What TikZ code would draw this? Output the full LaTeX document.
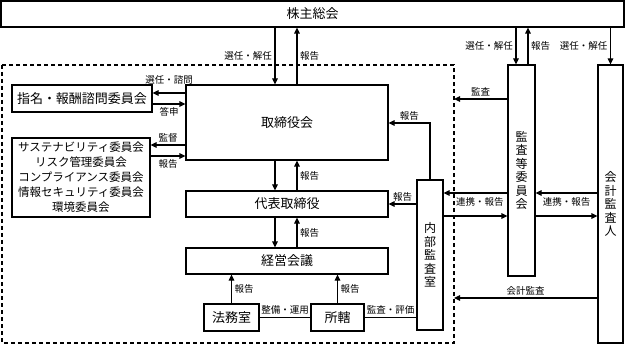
\documentclass[tikz,border=0pt]{standalone}
\usepackage{fontspec}
\usetikzlibrary{arrows.meta}
\newfontfamily\jpfont{Noto Sans CJK JP}

\tikzset{
  box/.style={draw,line width=1.2pt,inner sep=0pt,font=\jpfont\fontsize{13}{15}\selectfont},
  vbox/.style={box,align=center,font=\jpfont\fontsize{12}{13.5}\selectfont},
  lbl/.style={inner sep=2.5pt,font=\jpfont\fontsize{9.5}{11}\selectfont},
}

\begin{document}
\begin{tikzpicture}[>={Triangle[length=6pt,width=5.5pt]},x=1pt,y=-1pt,line width=1.2pt]
 \useasboundingbox (0,0) rectangle (625,345);
 % boxes
 \node[box,minimum width=623pt,minimum height=26pt] (kabunushi) at (312.5,14) {株主総会};
 \node[box,minimum width=202pt,minimum height=75pt] (torishimari) at (287,122.5) {取締役会};
 \node[box,minimum width=202pt,minimum height=26pt] (daihyo) at (287,204) {代表取締役};
 \node[box,minimum width=202pt,minimum height=26pt] (keiei) at (287,261) {経営会議};
 \node[box,minimum width=55pt,minimum height=27pt] (houmu) at (231.5,317.5) {法務室};
 \node[box,minimum width=53pt,minimum height=27pt] (shokatsu) at (337.5,317.5) {所轄};
 \node[box,minimum width=140pt,minimum height=27pt] (shimei) at (82,98.5) {指名・報酬諮問委員会};
 \node[box,align=center,minimum width=138pt,minimum height=79pt,
   font=\jpfont\fontsize{11.5}{15}\selectfont] (iinkai) at (81,177.5)
   {サステナビリティ委員会\\リスク管理委員会\\コンプライアンス委員会\\情報セキュリティ委員会\\環境委員会};
 \node[vbox,minimum width=26pt,minimum height=150pt] (naibu) at (430,255) {内\\部\\監\\査\\室};
 \node[vbox,minimum width=27pt,minimum height=211pt] (kansa) at (521.5,170.5) {監\\査\\等\\委\\員\\会};
 \node[vbox,minimum width=25pt,minimum height=278pt] (kaikei) at (610.5,204) {会\\計\\監\\査\\人};
 % dashed frame
 \coordinate (frnw) at (2,65);
 \coordinate (frse) at (454,343);
 \draw[dash pattern=on 4pt off 3pt] (frnw) rectangle (frse);

 % shareholders
 \draw[->] (kabunushi.south -| 275,0) -- (torishimari.north -| 275,0) node[lbl,midway,left] {選任・解任};
 \draw[->] (torishimari.north -| 297,0) -- (kabunushi.south -| 297,0) node[lbl,midway,right] {報告};
 \draw[->] (kabunushi.south -| 516,0) -- (kansa.north -| 516,0) node[lbl,midway,left] {選任・解任};
 \draw[->] (kansa.north -| 528,0) -- (kabunushi.south -| 528,0) node[lbl,midway,right] {報告};
 \draw[->] (kabunushi.south -| kaikei.north) -- (kaikei.north) node[lbl,midway,left] {選任・解任};

 % board chain
 \foreach \a/\b in {torishimari/daihyo,daihyo/keiei}{
   \draw[->] (\a.south -| 275,0) -- (\b.north -| 275,0);
   \draw[->] (\b.north -| 297,0) -- (\a.south -| 297,0) node[lbl,midway,right] {報告};}
 \foreach \n in {houmu,shokatsu}
   \draw[->] (\n.north) -- (keiei.south -| \n.north) node[lbl,midway,right] {報告};

 % committees
 \draw[->] (torishimari.west |- 0,93) -- (shimei.east |- 0,93) node[lbl,midway,above=6pt] {選任・諮問};
 \draw[->] (shimei.east |- 0,104) -- (torishimari.west |- 0,104) node[lbl,midway,below] {答申};
 \draw[->] (torishimari.west |- 0,145) -- (iinkai.east |- 0,145) node[lbl,midway,above] {監督};
 \draw[->] (iinkai.east |- 0,156) -- (torishimari.west |- 0,156) node[lbl,midway,below] {報告};

 % audit
 \draw[->] (naibu.north) |- (torishimari.east |- 0,123) node[lbl,pos=0.75,above] {報告};
 \draw[->] (naibu.west |- daihyo.east) -- (daihyo.east) node[lbl,midway,above] {報告};
 \draw (houmu.east) -- (shokatsu.west) node[lbl,midway,above] {整備・運用};
 \draw (shokatsu.east) -- (naibu.west |- shokatsu.east) node[lbl,midway,above] {監査・評価};
 \draw[->] (kansa.west |- 0,99) -- (frse |- 0,99) node[lbl,midway,above] {監査};
 \draw[->] (kansa.west |- 0,193) -- (naibu.east |- 0,193) node[lbl,pos=0.43,below=1pt] {連携・報告};
 \draw[->] (naibu.east |- 0,216) -- (kansa.west |- 0,216);
 \draw[->] (kaikei.west |- 0,193) -- (kansa.east |- 0,193) node[lbl,midway,below=1pt] {連携・報告};
 \draw[->] (kansa.east |- 0,216) -- (kaikei.west |- 0,216);
 \draw[->] (kaikei.west |- 0,298) -- (frse |- 0,298) node[lbl,midway,above] {会計監査};
\end{tikzpicture}
\end{document}
